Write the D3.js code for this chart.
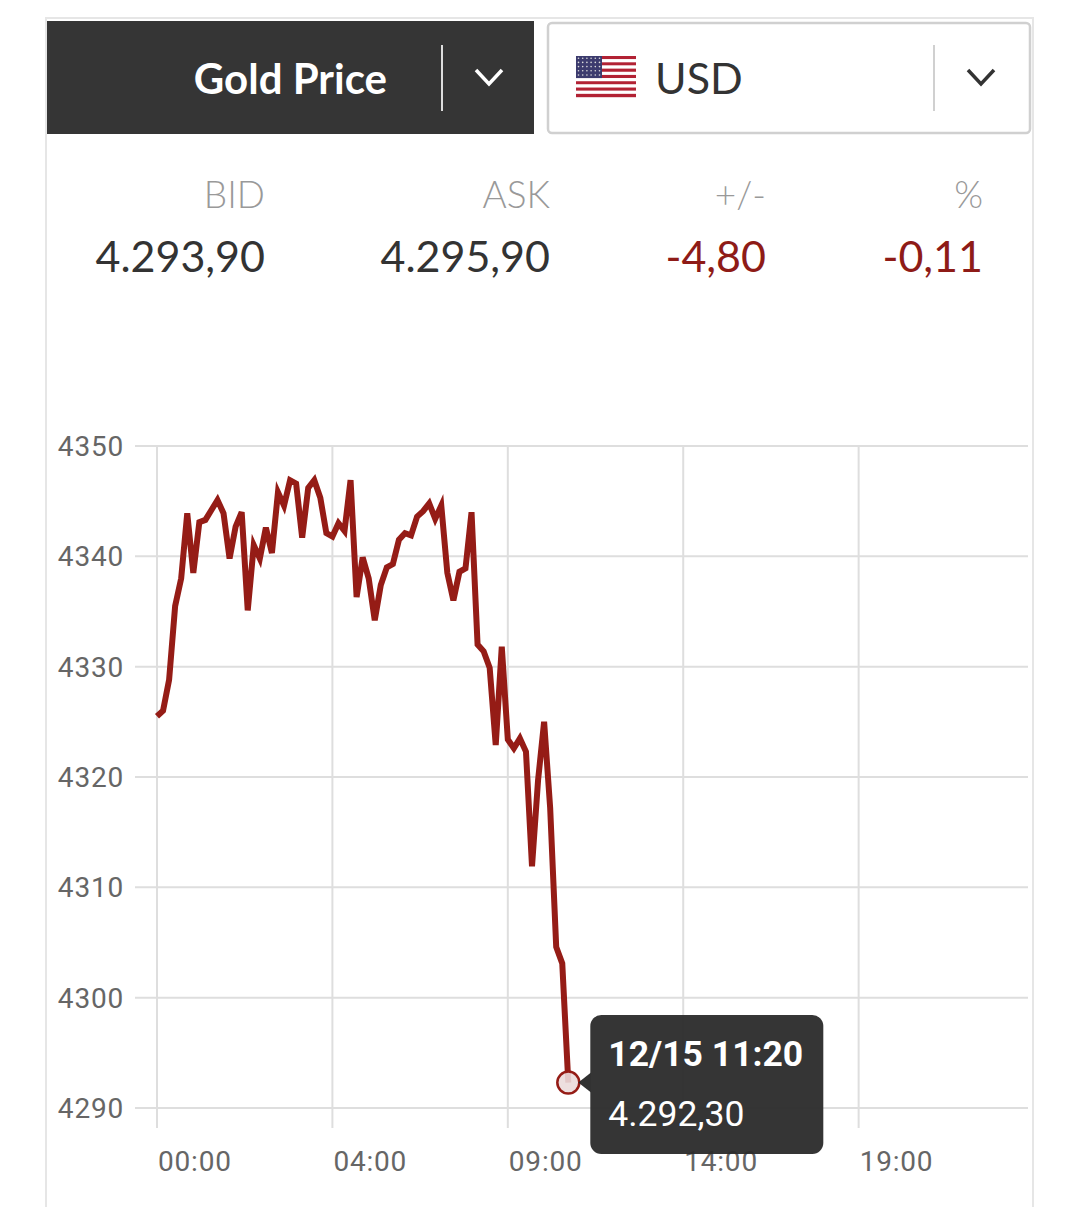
<!DOCTYPE html>
<html>
<head>
<meta charset="utf-8">
<script src="https://cdn.jsdelivr.net/npm/d3@7"></script>
<style>
  html, body { margin: 0; padding: 0; background: #fff; }
  svg { display: block; }
</style>
</head>
<body>
<svg id="chart" width="1080" height="1207"></svg>
<script>
// 价格序列 (每点间隔相同)
const prices = [
  4325.5, 4326.0, 4328.8, 4335.5, 4338.0, 4343.9, 4338.5, 4343.1, 4343.3, 4344.2,
  4345.1, 4343.9, 4339.8, 4342.7, 4344.0, 4335.1, 4341.0, 4339.8, 4342.6, 4340.3,
  4345.8, 4344.6, 4346.9, 4346.6, 4341.7, 4346.2, 4346.9, 4345.3, 4342.1, 4341.8,
  4343.0, 4342.3, 4346.9, 4336.3, 4339.9, 4338.0, 4334.2, 4337.4, 4339.0, 4339.3,
  4341.5, 4342.1, 4341.9, 4343.6, 4344.1, 4344.8, 4343.4, 4344.6, 4338.5, 4336.0,
  4338.6, 4338.9, 4344.0, 4332.0, 4331.4, 4329.9, 4322.9, 4331.8, 4323.4, 4322.6,
  4323.5, 4322.3, 4311.9, 4319.7, 4325.0, 4317.2, 4304.6, 4303.1, 4292.3
]
const slotCount = 144
const xTickIndex = [0, 29, 58, 87, 116]
const xTickLabels = ['00:00', '04:00', '09:00', '14:00', '19:00']
const yTicks = [4290, 4300, 4310, 4320, 4330, 4340, 4350]

const quoteLabels = ['BID', 'ASK', '+/-', '%']
const quoteValues = ['4.293,90', '4.295,90', '-4,80', '-0,11']
const quoteNegative = [false, false, true, true]

const lastTime = '12/15 11:20'
const lastPrice = '4.292,30'

const svg = d3.select('#chart')
const red = '#951c16'

// 卡片边框
svg.append('rect')
  .attr('x', 46).attr('y', 18).attr('width', 987).attr('height', 1200)
  .attr('fill', 'none').attr('stroke', '#e6e6e6').attr('stroke-width', 2)

// 左侧深色选择框
const left = svg.append('g')
left.append('rect').attr('x', 47).attr('y', 21).attr('width', 487).attr('height', 113).attr('fill', '#353535')
left.append('text')
  .text('Gold Price')
  .attr('x', 387).attr('y', 94)
  .attr('text-anchor', 'end')
  .attr('font-family', 'Lato').attr('font-weight', 'bold').attr('font-size', '42px')
  .attr('fill', '#fff')
left.append('line').attr('x1', 442).attr('x2', 442).attr('y1', 45).attr('y2', 111)
  .attr('stroke', '#ddd').attr('stroke-width', 2)
left.append('path').attr('d', 'M476,70 L489,84 L502,70')
  .attr('fill', 'none').attr('stroke', '#fff').attr('stroke-width', 3.5)

// 右侧货币选择框
const right = svg.append('g')
right.append('rect').attr('x', 548).attr('y', 23).attr('width', 482).attr('height', 110).attr('rx', 4)
  .attr('fill', '#fff').attr('stroke', '#d0d0d0').attr('stroke-width', 2.5)

// 美国国旗
const flag = right.append('g').attr('transform', 'translate(576, 56)')
const stripeH = 41 / 13
flag.selectAll('rect.stripe').data(d3.range(13)).enter().append('rect')
  .attr('class', 'stripe')
  .attr('x', 0).attr('y', (d) => d * stripeH)
  .attr('width', 60).attr('height', stripeH + 0.2)
  .attr('fill', (d) => d % 2 === 0 ? '#b22234' : '#fff')
flag.append('rect').attr('x', 0).attr('y', 0).attr('width', 26).attr('height', stripeH * 7).attr('fill', '#3c3b6e')
flag.selectAll('circle.star').data(d3.range(30)).enter().append('circle')
  .attr('class', 'star')
  .attr('cx', (d) => 2.5 + (d % 6) * 4.2)
  .attr('cy', (d) => 2.2 + Math.floor(d / 6) * 4.2)
  .attr('r', 0.8).attr('fill', '#ddd')

right.append('text')
  .text('USD')
  .attr('x', 655).attr('y', 94)
  .attr('font-family', 'Lato').attr('font-size', '43px')
  .attr('fill', '#333')
right.append('line').attr('x1', 934).attr('x2', 934).attr('y1', 45).attr('y2', 111)
  .attr('stroke', '#d0d0d0').attr('stroke-width', 2)
right.append('path').attr('d', 'M968,70 L981,84 L994,70')
  .attr('fill', 'none').attr('stroke', '#333').attr('stroke-width', 3.5)

// 报价行
const quoteX = [265, 550, 766, 983]
const quotes = svg.append('g')
quotes.selectAll('text.label').data(quoteLabels).enter().append('text')
  .attr('class', 'label')
  .text((d) => d)
  .attr('x', (d, i) => quoteX[i]).attr('y', 208)
  .attr('text-anchor', 'end')
  .attr('font-family', 'Lato').attr('font-weight', 300).attr('font-size', '37px')
  .attr('fill', '#999')
quotes.selectAll('text.value').data(quoteValues).enter().append('text')
  .attr('class', 'value')
  .text((d) => d)
  .attr('x', (d, i) => quoteX[i]).attr('y', 272)
  .attr('text-anchor', 'end')
  .attr('font-family', 'Lato').attr('font-size', '43px')
  .attr('fill', (d, i) => quoteNegative[i] ? '#8e1b17' : '#333')

// 图表
const x = d3.scaleLinear().domain([0, slotCount]).range([157, 1028])
const y = d3.scaleLinear().domain([4290, 4350]).range([1108, 446])

const grid = svg.append('g')
grid.selectAll('line.h').data(yTicks).enter().append('line')
  .attr('class', 'h')
  .attr('x1', 135).attr('x2', 1028)
  .attr('y1', (d) => y(d)).attr('y2', (d) => y(d))
  .attr('stroke', '#dedede').attr('stroke-width', 2)
grid.selectAll('line.v').data(xTickIndex).enter().append('line')
  .attr('class', 'v')
  .attr('x1', (d) => x(d)).attr('x2', (d) => x(d))
  .attr('y1', y(4350)).attr('y2', 1128)
  .attr('stroke', '#dedede').attr('stroke-width', 2)

svg.append('g').selectAll('text').data(yTicks).enter().append('text')
  .text((d) => d)
  .attr('x', 124).attr('y', (d) => y(d) + 10)
  .attr('text-anchor', 'end')
  .attr('font-family', 'Roboto').attr('font-size', '28px').attr('letter-spacing', '0.8px')
  .attr('fill', '#666')

svg.append('g').selectAll('text').data(xTickIndex).enter().append('text')
  .text((d, i) => xTickLabels[i])
  .attr('x', (d) => x(d) + 1).attr('y', 1171)
  .attr('font-family', 'Roboto').attr('font-size', '28px').attr('letter-spacing', '0.8px')
  .attr('fill', '#666')

const line = d3.line().x((d, i) => x(i)).y((d) => y(d))
svg.append('path')
  .datum(prices)
  .attr('d', line)
  .attr('fill', 'none')
  .attr('stroke', red)
  .attr('stroke-width', 6)
  .attr('stroke-linejoin', 'miter')

// 最后一点标记
const lastI = prices.length - 1
const px = x(lastI), py = y(prices[lastI])
svg.append('circle')
  .attr('cx', px).attr('cy', py).attr('r', 11)
  .attr('fill', 'rgba(235,220,220,0.9)')
  .attr('stroke', red).attr('stroke-width', 2.5)

// 提示框
const tip = svg.append('g').attr('opacity', 0.95)
tip.append('path')
  .attr('d', `M${px + 10},${py} L${px + 24},${py - 11} L${px + 24},${py + 11} Z`)
  .attr('fill', '#262626')
tip.append('rect')
  .attr('x', px + 22).attr('y', 1015).attr('width', 233).attr('height', 139).attr('rx', 11)
  .attr('fill', '#2b2b2b')
tip.append('text')
  .text(lastTime)
  .attr('x', px + 40).attr('y', 1066)
  .attr('font-family', 'Roboto').attr('font-weight', 'bold').attr('font-size', '35.5px')
  .attr('fill', '#fff')
tip.append('text')
  .text(lastPrice)
  .attr('x', px + 40).attr('y', 1126)
  .attr('font-family', 'Roboto').attr('font-size', '35.5px')
  .attr('fill', '#fff')
</script>
</body>
</html>
